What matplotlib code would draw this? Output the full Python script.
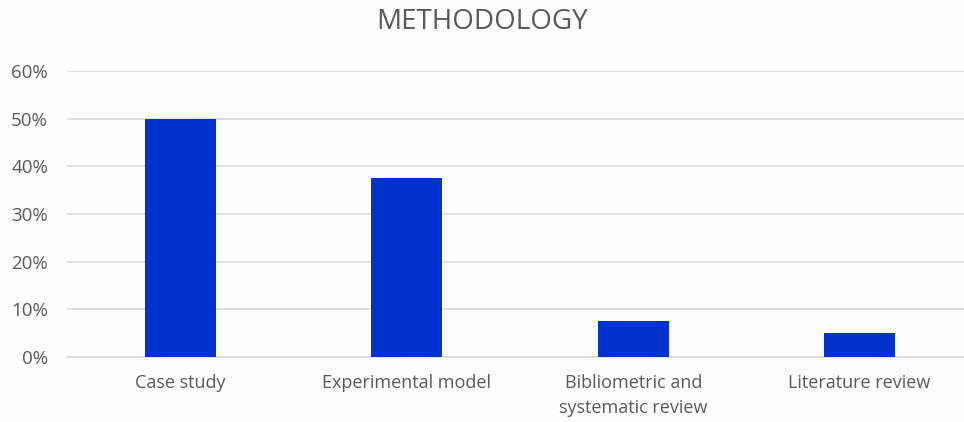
import matplotlib.pyplot as plt
from matplotlib.ticker import PercentFormatter

# data
categories = ["Case study", "Experimental model", "Bibliometric and\nsystematic review", "Literature review"]
shares = [0.50, 0.375, 0.075, 0.05]
yticks = [0, 0.1, 0.2, 0.3, 0.4, 0.5, 0.6]

plt.rcParams['font.family'] = ['Open Sans', 'DejaVu Sans']
txt = "#595959"

fig = plt.figure(figsize=(9.64, 4.22), dpi=100, facecolor="#fdfdfd")
# the plot area runs a bit past the right edge, like the cropped original
ax = fig.add_axes([0.07, 0.154, 0.939, 0.678])
ax.set_facecolor("#fdfdfd")

x = range(len(categories))
ax.bar(x, shares, width=0.314, color="#0033cc", zorder=3)

ax.set_xlim(-0.5, len(categories) - 0.5)
ax.set_ylim(0, 0.6)
ax.set_yticks(yticks)
ax.yaxis.set_major_formatter(PercentFormatter(1.0, decimals=0))
ax.set_xticks(list(x))
ax.set_xticklabels(categories, linespacing=1.55)
ax.tick_params(axis="both", length=0, colors=txt, labelsize=13)
ax.tick_params(axis="y", pad=14, labelsize=13.5)
ax.tick_params(axis="x", pad=12)
ax.grid(axis="y", color="#d9d9d9", linewidth=1.2, zorder=0)
for s in ["top", "right", "left"]:
    ax.spines[s].set_visible(False)
ax.spines["bottom"].set_color("#d9d9d9")
ax.spines["bottom"].set_linewidth(1.2)

fig.text(0.5, 0.948, "METHODOLOGY", ha="center", va="center", fontsize=20, color=txt)

fig.savefig("out.png", dpi=100, facecolor=fig.get_facecolor())
